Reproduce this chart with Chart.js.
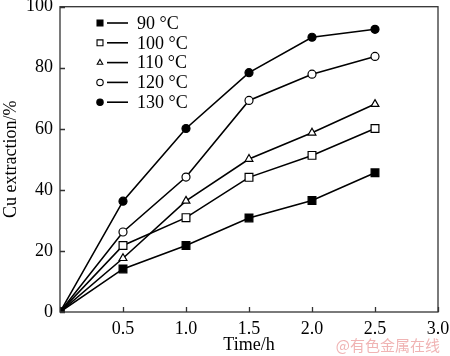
<!DOCTYPE html>
<html><head><meta charset="utf-8">
<script src="https://cdn.jsdelivr.net/npm/chart.js@4"></script>
<style>
html,body{margin:0;padding:0;background:#fff}
#wrap{position:relative;width:450px;height:356px}
#wm{position:absolute;right:10px;bottom:1px;font:15px "Noto Sans CJK SC";color:#f0b4b4}
</style></head>
<body><div id="wrap"><canvas id="c" width="450" height="356"></canvas><div id="wm">@有色金属在线</div></div>
<script>
const times = [0, 0.5, 1.0, 1.5, 2.0, 2.5];
const seriesNames = ['90 °C', '100 °C', '110 °C', '120 °C', '130 °C'];
const s90  = [0, 14.1, 21.8, 30.8, 36.5, 45.6];
const s100 = [0, 21.8, 30.9, 44.1, 51.3, 60.1];
const s110 = [0, 17.6, 36.4, 50.1, 58.7, 68.1];
const s120 = [0, 26.2, 44.2, 69.3, 77.9, 83.7];
const s130 = [0, 36.3, 60.1, 78.4, 90.0, 92.6];
const xTicks = [0.5, 1.0, 1.5, 2.0, 2.5, 3.0];
const yTicks = [0, 20, 40, 60, 80, 100];

const FONT = '"Liberation Serif", "Times New Roman", serif';
const styles = [
  {ps:'rect', r:5.5, fill:'#000'},
  {ps:'rect', r:5.5, fill:'#fff'},
  {ps:'triangle', r:4.5, fill:'#fff'},
  {ps:'circle', r:4, fill:'#fff'},
  {ps:'circle', r:4, fill:'#000'}
];
const allSeries = [s90, s100, s110, s120, s130];

const datasets = allSeries.map((s, i) => ({
  label: seriesNames[i],
  data: times.map((t, k) => ({x: t, y: s[k]})),
  borderColor: '#000', borderWidth: 1.6,
  pointStyle: styles[i].ps, pointRadius: styles[i].r, pointHoverRadius: styles[i].r,
  pointBackgroundColor: styles[i].fill, pointBorderColor: '#000', pointBorderWidth: 1.2,
  tension: 0, fill: false
}));

function drawMarker(ctx, st, x, y, r) {
  ctx.save();
  ctx.fillStyle = st.fill; ctx.strokeStyle = '#000'; ctx.lineWidth = 1.1;
  ctx.beginPath();
  if (st.ps === 'rect') { const h = r * Math.SQRT1_2; ctx.rect(x - h, y - h, 2*h, 2*h); }
  else if (st.ps === 'circle') { ctx.arc(x, y, r, 0, Math.PI*2); }
  else { ctx.moveTo(x, y - r); ctx.lineTo(x + r*0.866, y + r*0.5); ctx.lineTo(x - r*0.866, y + r*0.5); ctx.closePath(); }
  ctx.fill(); ctx.stroke();
  ctx.restore();
}

const framePlugin = {
  id: 'frame',
  afterDraw(chart) {
    const {ctx, chartArea: a, scales} = chart;
    ctx.save();
    ctx.strokeStyle = '#333'; ctx.lineWidth = 1.3;
    ctx.strokeRect(a.left, a.top, a.right - a.left, a.bottom - a.top);
    ctx.beginPath();
    xTicks.forEach(v => { const px = Math.round(scales.x.getPixelForValue(v)) + 0.5; ctx.moveTo(px, a.bottom); ctx.lineTo(px, a.bottom - 5); });
    yTicks.forEach(v => { const py = Math.round(scales.y.getPixelForValue(v)) + 0.5; ctx.moveTo(a.left, py); ctx.lineTo(a.left + 5, py); });
    ctx.stroke();
    // legend
    const lx = 100, ly0 = 23, dy = 19.8;
    ctx.font = '18px ' + FONT; ctx.fillStyle = '#000'; ctx.textBaseline = 'middle';
    seriesNames.forEach((n, i) => {
      const y = ly0 + i * dy;
      ctx.strokeStyle = '#000'; ctx.lineWidth = 1.6;
      ctx.beginPath(); ctx.moveTo(107, y); ctx.lineTo(128, y); ctx.stroke();
      const st = styles[i];
      drawMarker(ctx, st, lx, y, st.ps === 'rect' ? 4.2 : 3.2);
      ctx.fillText(n, 137, y + 1);
    });
    ctx.restore();
  }
};

new Chart(document.getElementById('c'), {
  type: 'line',
  data: { datasets },
  plugins: [framePlugin],
  options: {
    responsive: false, animation: false, devicePixelRatio: 1,
    layout: { padding: { top: 6, right: 12, left: 0, bottom: 0 } },
    plugins: { legend: { display: false }, tooltip: { enabled: false } },
    scales: {
      x: {
        type: 'linear', min: 0, max: 3.0,
        afterFit(s) { s.height = 44; s.paddingRight = 0; s.paddingLeft = 0; },
        afterBuildTicks(s) { s.ticks = xTicks.map(v => ({value: v})); },
        grid: { display: false, drawTicks: false },
        border: { display: false },
        ticks: { padding: 6, color: '#000', font: { family: FONT, size: 18 }, maxRotation: 0,
                 callback: v => Number(v).toFixed(1) },
        title: { display: true, text: 'Time/h', color: '#000', font: { family: FONT, size: 18 }, padding: { top: 0, bottom: 0 } }
      },
      y: {
        min: 0, max: 100,
        afterFit(s) { s.width = 60; s.paddingTop = 0; s.paddingBottom = 0; },
        afterBuildTicks(s) { s.ticks = yTicks.map(v => ({value: v})); },
        grid: { display: false, drawTicks: false },
        border: { display: false },
        ticks: { padding: 7, color: '#000', font: { family: FONT, size: 18 } },
        title: { display: true, text: 'Cu extraction/%', color: '#000', font: { family: FONT, size: 18 }, padding: { top: 0, bottom: 2 } }
      }
    }
  }
});
</script>
</body></html>
